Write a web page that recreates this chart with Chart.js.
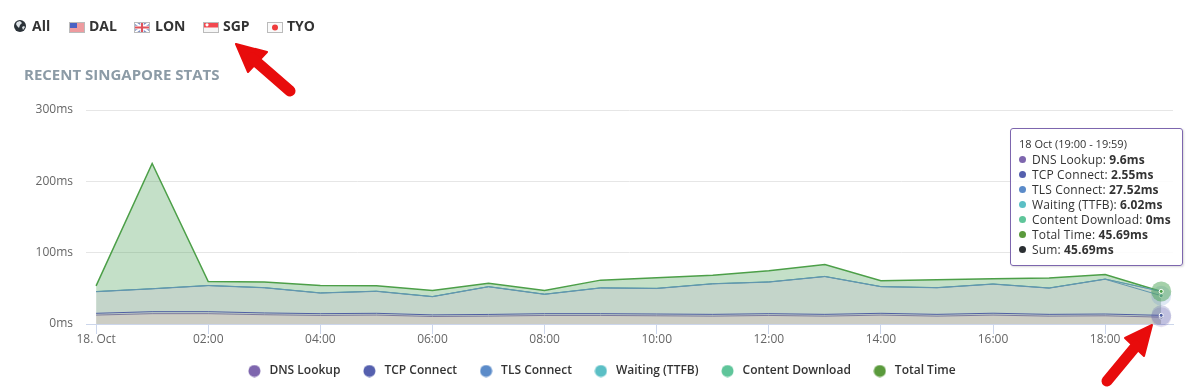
<!DOCTYPE html>
<html>
<head>
<meta charset="utf-8">
<title>Recent Singapore stats</title>
<script src="https://cdn.jsdelivr.net/npm/chart.js@4"></script>
<style>
  html, body { margin: 0; padding: 0; background: #fff; }
  body { width: 1199px; height: 392px; position: relative; overflow: hidden; font-family: "Open Sans", sans-serif; }
  #chart-wrap { position: absolute; left: 0; top: 0; width: 1199px; height: 392px; }
  .nav { position: absolute; top: 16px; font-size: 14px; line-height: 19px; font-weight: 700; color: #333; white-space: nowrap; }
  h3 { position: absolute; left: 24px; top: 65px; margin: 0; font-size: 15px; line-height: 19px; font-weight: 700; color: #8c9ba6; }
  #tip { position: absolute; left: 1010px; top: 128px; width: 171px; height: 136px; box-sizing: content-box; border: 1px solid #7d66ae; border-radius: 3px; background: rgba(255,255,255,.85); box-shadow: 1px 1px 2px rgba(0,0,0,.15); color: #333; font-size: 12px; letter-spacing: .15px; white-space: nowrap; }
  #tip .head { position: absolute; left: 8px; top: 8px; font-size: 11px; line-height: 14px; letter-spacing: 0; }
  #tip .row { position: absolute; left: 21px; line-height: 15px; }
  #tip .row i { position: absolute; left: -13px; top: 4px; width: 7px; height: 7px; border-radius: 50%; }
  #tip b { font-weight: 700; }
  #arrows { position: absolute; left: 0; top: 0; pointer-events: none; }
</style>
</head>
<body>
<div id="chart-wrap"><canvas id="myChart"></canvas></div>

<div class="nav" style="left:32px">All</div>
<svg style="position:absolute;left:14px;top:20px" width="12" height="12" viewBox="0 0 12 12"><circle cx="6" cy="6" r="6" fill="#2b3238"/><path d="M3 2l3-1 2 2-2 2-1 3-2-2-1-2zM8 7l2-1 1 1-2 3z" fill="#dfe4e8"/></svg>

<div class="nav" style="left:89px">DAL</div>
<svg style="position:absolute;left:69px;top:22px" width="16" height="11" viewBox="0 0 16 11"><rect width="16" height="11" fill="#f4f4f4"/><path d="M0 1h16M0 3h16M0 5h16M0 7h16M0 9h16" stroke="#e8434b" stroke-width="1"/><rect width="8" height="6" fill="#4a62c4"/><rect x=".5" y=".5" width="15" height="10" fill="none" stroke="#bbb"/></svg>

<div class="nav" style="left:155px">LON</div>
<svg style="position:absolute;left:134px;top:22px" width="16" height="11" viewBox="0 0 16 11"><rect width="16" height="11" fill="#7f8fc4"/><path d="M0 0l16 11M16 0L0 11" stroke="#fff" stroke-width="2"/><path d="M8 0v11M0 5.5h16" stroke="#fff" stroke-width="3.5"/><path d="M8 0v11M0 5.5h16" stroke="#e0525a" stroke-width="2"/><rect x=".5" y=".5" width="15" height="10" fill="none" stroke="#bbb"/></svg>

<div class="nav" style="left:223px">SGP</div>
<svg style="position:absolute;left:203px;top:22px" width="16" height="11" viewBox="0 0 16 11"><rect width="16" height="11" fill="#f6f6f6"/><rect width="16" height="5.5" fill="#f2484f"/><circle cx="4" cy="2.8" r="1.6" fill="#fff"/><rect x=".5" y=".5" width="15" height="10" fill="none" stroke="#bbb"/></svg>

<div class="nav" style="left:287px">TYO</div>
<svg style="position:absolute;left:267px;top:22px" width="16" height="11" viewBox="0 0 16 11"><rect width="16" height="11" fill="#fafafa"/><circle cx="8" cy="5.5" r="3" fill="#ee3b3b"/><rect x=".5" y=".5" width="15" height="10" fill="none" stroke="#bbb"/></svg>

<h3>RECENT SINGAPORE STATS</h3>

<div id="tip"></div>

<svg id="arrows" width="1199" height="392">
  <g fill="#e80c0c" stroke="#e80c0c" stroke-linejoin="round">
    <path d="M236 44 L267 52 L248 72 Z" stroke-width="2"/>
    <path d="M252 58 L290 91" stroke-width="11" stroke-linecap="round" fill="none"/>
    <path d="M1152 325 L1144 356 L1125 338 Z" stroke-width="2"/>
    <path d="M1136 346 L1107 381" stroke-width="11" stroke-linecap="round" fill="none"/>
  </g>
</svg>

<script>
// values, one per hour from 18 Oct 00:00 to 19:00
const hours = [0,1,2,3,4,5,6,7,8,9,10,11,12,13,14,15,16,17,18,19];
const dnsLookup   = [12.5,14.5,14.5,13,12,12.5,10.5,11,12,12,11.5,11,12,11,12.5,11,12.5,11,11.5,9.6];
const tcpConnect  = [2.5,2.8,2.8,2.5,2.5,2.5,2.3,2.4,2.5,2.5,2.5,2.5,2.5,2.5,2.5,2.5,2.6,2.5,2.5,2.55];
const tlsConnect  = [30.2,31.9,36.4,35.2,28.8,30.7,25.4,38.7,27,35.9,35.7,42.7,44.2,52.9,37.2,37.2,40.7,36.7,48.7,27.52];
const waitingTtfb = [0.3,0.3,0.3,0.3,0.3,0.3,0.3,0.3,0.3,0.3,0.3,0.3,0.3,0.3,0.3,0.3,0.3,0.3,0.3,6.02];
const contentDl   = [0,0,0,0,0,0,0,0,0,0,0,0,0,0,0,0,0,0,0,0];
const totalTime   = [53.5,225,59.5,59,54,53.5,47,57,47,61.5,65,68.5,74.6,83.5,60.5,62,63.4,64.5,69.5,45.69];

const seriesNames = ['DNS Lookup','TCP Connect','TLS Connect','Waiting (TTFB)','Content Download','Total Time'];
const seriesValues = [dnsLookup,tcpConnect,tlsConnect,waitingTtfb,contentDl,totalTime];
const seriesColors = ['#7e66ae','#5560ae','#5b8bc9','#5bbfc5','#5fc59a','#5a9a3c'];
const lineColors = ['#7d7a9e','#4f5fa3','#6196ae','#6196ae','#5fb59a','#4c9f48'];
const fillColors = ['rgba(227,148,184,.25)','rgba(190,150,200,.2)','rgba(196,140,225,.12)','rgba(196,140,225,.12)','rgba(95,197,154,.2)','rgba(70,160,85,.32)'];
const haloColors = ['rgba(126,102,174,.2)','rgba(85,96,174,.25)','rgba(91,139,201,.2)','rgba(91,191,197,.08)','rgba(95,197,154,.08)','rgba(76,159,72,.42)'];

const yTicks = [0,100,200,300];
const xTickHours = [0,2,4,6,8,10,12,14,16,18];
const xTickLabels = ['18. Oct','02:00','04:00','06:00','08:00','10:00','12:00','14:00','16:00','18:00'];
const tipTitle = '18 Oct (19:00 - 19:59)';
const activeIndex = 19;

let datasets = [];
for (let i = 0; i < seriesNames.length; i++) {
  let isTotal = seriesNames[i] == 'Total Time';
  datasets.push({
    label: seriesNames[i],
    data: seriesValues[i],
    stack: isTotal ? 'total' : 'timing',
    borderColor: lineColors[i],
    backgroundColor: fillColors[i],
    fill: isTotal || i == 0 ? 'origin' : '-1',
    borderWidth: isTotal ? 1.5 : 1,
    pointRadius: 0,
    pointHoverRadius: 0,
    tension: 0
  });
}

// legend dots as small canvases so the gap before the text can be wider than the dot
function legendDot(color) {
  let c = document.createElement('canvas');
  c.width = 13;
  c.height = 13;
  let ctx = c.getContext('2d');
  ctx.fillStyle = color;
  ctx.beginPath();
  ctx.arc(6.5, 6.5, 6, 0, Math.PI*2);
  ctx.fill();
  return c;
}

// the highlighted hour: halo and small point for each series
const haloPlugin = {
  id: 'halo',
  afterDatasetsDraw(chart) {
    const ctx = chart.ctx;
    for (let i = 0; i < datasets.length; i++) {
      const p = chart.getDatasetMeta(i).data[activeIndex];
      ctx.save();
      ctx.fillStyle = haloColors[i];
      ctx.beginPath(); ctx.arc(p.x, p.y, 10, 0, Math.PI*2); ctx.fill();
      ctx.fillStyle = lineColors[i];
      ctx.strokeStyle = '#fff';
      ctx.lineWidth = 1;
      ctx.beginPath(); ctx.arc(p.x, p.y, 2, 0, Math.PI*2); ctx.fill(); ctx.stroke();
      ctx.restore();
    }
  }
};

// legend is centred on the whole page, the right padding of the plot would pull it left
const legendShift = {
  id: 'legendShift',
  afterLayout(chart) {
    chart.legend.left += 14;
    chart.legend.right += 14;
  }
};

function renderTip() {
  let html = '<div class="head">'+tipTitle+'</div>';
  let sum = 0;
  for (let i = 0; i < seriesNames.length; i++) {
    let top = 23 + i*15;
    html += '<div class="row" style="top:'+top+'px"><i style="background:'+seriesColors[i]+'"></i>'+seriesNames[i]+': <b>'+seriesValues[i][activeIndex]+'ms</b></div>';
    if (i < 5) sum += seriesValues[i][activeIndex];
  }
  html += '<div class="row" style="top:113px"><i style="background:#2b2f33"></i>Sum: <b>'+sum.toFixed(2)+'ms</b></div>';
  document.getElementById('tip').innerHTML = html;
}

const tickFont = { family: '"Open Sans", sans-serif', size: 12 };

new Chart(document.getElementById('myChart'), {
  type: 'line',
  data: { labels: hours, datasets: datasets },
  plugins: [haloPlugin, legendShift],
  options: {
    responsive: true,
    maintainAspectRatio: false,
    animation: false,
    layout: { padding: { top: 110, right: 26, left: 0, bottom: 5 } },
    plugins: {
      tooltip: { enabled: false },
      legend: {
        position: 'bottom',
        labels: {
          usePointStyle: true,
          pointStyleWidth: 18,
          boxHeight: 12,
          padding: 20,
          color: '#333',
          font: { family: '"Open Sans", sans-serif', size: 12, weight: '600' },
          generateLabels(chart) {
            return seriesNames.map((name, i) => ({
              text: name,
              datasetIndex: i,
              pointStyle: legendDot(seriesColors[i]),
              fillStyle: seriesColors[i],
              strokeStyle: seriesColors[i],
              lineWidth: 0,
              fontColor: '#333'
            }));
          }
        }
      }
    },
    scales: {
      x: {
        type: 'linear',
        min: -0.18,
        max: 19.21,
        afterFit(scale) { scale.height = 21; },
        afterBuildTicks(scale) { scale.ticks = xTickHours.map(v => ({ value: v })); },
        grid: { drawOnChartArea: false, tickColor: '#ccd6eb', tickLength: 10 },
        border: { color: '#ccd6eb' },
        ticks: {
          autoSkip: false, maxRotation: 0, color: '#666', font: tickFont, padding: -2,
          callback: (v) => xTickLabels[xTickHours.indexOf(v)]
        }
      },
      y: {
        stacked: true,
        min: 0,
        max: 300,
        afterFit(scale) { scale.width = 86; },
        afterBuildTicks(scale) { scale.ticks = yTicks.map(v => ({ value: v })); },
        grid: { color: '#e6e6e6', drawTicks: false },
        border: { display: false },
        ticks: { color: '#666', font: tickFont, padding: 13, callback: (v) => v + 'ms' }
      }
    }
  }
});
renderTip();
</script>
</body>
</html>
